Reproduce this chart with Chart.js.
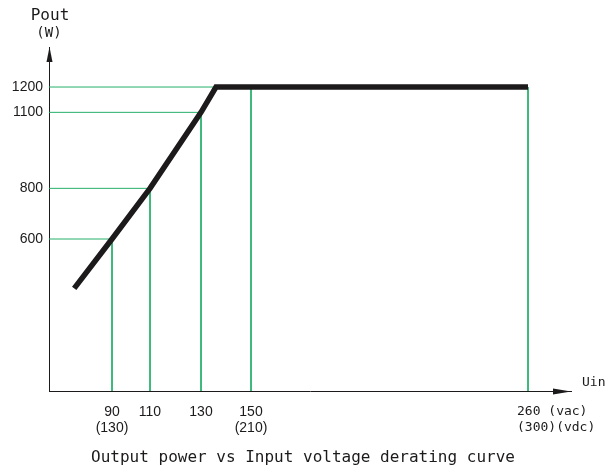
<!DOCTYPE html>
<html>
<head>
<meta charset="utf-8">
<script src="https://cdn.jsdelivr.net/npm/chart.js@4/dist/chart.umd.min.js"></script>
<style>
  html, body { margin: 0; padding: 0; background: #fff; }
  canvas { display: block; }
</style>
</head>
<body>
<canvas id="derating" width="606" height="468"></canvas>
<script>
// Curve data (input voltage V, output power W)
const voltage = [75, 90, 110, 130, 136, 260];
const power = [405, 600, 800, 1100, 1200, 1200];

// Marked points with guide lines
const guideVoltage = [90, 110, 130, 150, 260];
const guidePower = [600, 800, 1100, 1200, 1200];

const xTickValues = [90, 110, 130, 150, 260];
const xTickLabels = [['90', '(130)'], ['110'], ['130'], ['150', '(210)'], ['260 (vac)', '(300)(vdc)']];
const yTickValues = [600, 800, 1100, 1200];

const titleText = 'Output power vs Input voltage derating curve';

const GREEN = '#25b06a';
const INK = '#1c1a1b';

// The drawing is schematic: the voltage axis is not evenly spaced,
// so map it piecewise between the ticks like the original sheet.
const X_KNOT_VALUES = [65, 90, 110, 130, 150, 260, 277];
const X_KNOT_FRACS = [0, 63, 101, 152, 202, 479, 522].map(function(p) { return p / 522; });

function interp(v, xs, ys) {
    let i = 0;
    while (i < xs.length - 2 && v > xs[i + 1]) i++;
    const t = (v - xs[i]) / (xs[i + 1] - xs[i]);
    return ys[i] + t * (ys[i + 1] - ys[i]);
}

class SketchScale extends Chart.LinearScale {
    getPixelForValue(value) {
        return this.left + this.width * interp(value, X_KNOT_VALUES, X_KNOT_FRACS);
    }
    getValueForPixel(pixel) {
        return interp((pixel - this.left) / this.width, X_KNOT_FRACS, X_KNOT_VALUES);
    }
}
SketchScale.id = 'sketch';
SketchScale.defaults = Chart.LinearScale.defaults;
Chart.register(SketchScale);

const xMin = X_KNOT_VALUES[0];
const xMax = X_KNOT_VALUES[X_KNOT_VALUES.length - 1];

// Guide lines built from the marked points
const guideSets = [];
guideVoltage.forEach(function(v, i) {
    const p = guidePower[i];
    guideSets.push([{ x: v, y: p }, { x: v, y: 0 }]);
});
yTickValues.forEach(function(p) {
    const v = voltage[power.indexOf(p)];
    guideSets.push([{ x: xMin, y: p }, { x: v, y: p }]);
});

const datasets = [{
    data: voltage.map(function(v, i) { return { x: v, y: power[i] }; }),
    borderColor: INK,
    borderWidth: 5.5,
    borderCapStyle: 'butt',
    borderJoinStyle: 'miter',
    pointRadius: 0,
    order: 0
}];
guideSets.forEach(function(pts) {
    datasets.push({
        data: pts,
        borderColor: GREEN,
        borderWidth: 1,
        pointRadius: 0,
        order: 1
    });
});

const sheetPlugin = {
    id: 'sheet',
    afterDraw: function(chart) {
        const ctx = chart.ctx;
        const area = chart.chartArea;
        const xs = chart.scales.x;
        ctx.save();
        ctx.fillStyle = INK;

        // axis arrows
        ctx.beginPath();
        ctx.moveTo(area.left + 0.5, area.top);
        ctx.lineTo(area.left - 2.5, area.top + 15);
        ctx.lineTo(area.left + 3.5, area.top + 15);
        ctx.closePath();
        ctx.fill();
        ctx.beginPath();
        ctx.moveTo(area.right, area.bottom + 0.5);
        ctx.lineTo(area.right - 18, area.bottom - 2.5);
        ctx.lineTo(area.right - 18, area.bottom + 3.5);
        ctx.closePath();
        ctx.fill();

        ctx.textBaseline = 'middle';
        ctx.textAlign = 'center';
        ctx.font = '16px "DejaVu Sans Mono"';
        ctx.fillText('Pout', area.left + 1, 16);
        ctx.font = '14px "DejaVu Sans Mono"';
        ctx.fillText('(W)', area.left, 33);
        ctx.font = '13px "DejaVu Sans Mono"';
        ctx.textAlign = 'left';
        ctx.fillText('Uin', area.right + 11, area.bottom - 8);

        // x tick labels
        xTickValues.forEach(function(v, i) {
            const px = xs.getPixelForValue(v);
            const last = i === xTickValues.length - 1;
            xTickLabels[i].forEach(function(text, j) {
                ctx.font = /[a-z]/.test(text) ? '13px "DejaVu Sans Mono"' : '14px "Liberation Sans"';
                ctx.textAlign = last ? 'left' : 'center';
                ctx.fillText(text, last ? px - 11 : px, area.bottom + 21 + j * 16);
            });
        });

        ctx.textAlign = 'center';
        ctx.font = '16px "DejaVu Sans Mono"';
        ctx.fillText(titleText, chart.width / 2, 458);
        ctx.restore();
    }
};

new Chart(document.getElementById('derating'), {
    type: 'line',
    data: { datasets: datasets },
    options: {
        responsive: false,
        devicePixelRatio: 1,
        animation: false,
        layout: { padding: { top: 47, right: 35, left: 0, bottom: 0 } },
        plugins: {
            legend: { display: false },
            tooltip: { enabled: false }
        },
        elements: { line: { tension: 0, fill: false } },
        scales: {
            x: {
                type: 'sketch',
                min: xMin,
                max: xMax,
                grid: { display: false, drawTicks: false },
                border: { display: true, color: INK, width: 1 },
                ticks: { display: false },
                afterFit: function(scale) { scale.height = 77; }
            },
            y: {
                type: 'linear',
                min: 0,
                max: 1358,
                grid: { display: false, drawTicks: false },
                border: { display: true, color: INK, width: 1 },
                ticks: {
                    color: INK,
                    padding: 6,
                    font: { family: '"Liberation Sans"', size: 14 },
                    callback: function(value) { return String(value); }
                },
                afterBuildTicks: function(scale) {
                    scale.ticks = yTickValues.map(function(v) { return { value: v }; });
                },
                afterFit: function(scale) { scale.width = 49; }
            }
        }
    },
    plugins: [sheetPlugin]
});
</script>
</body>
</html>
